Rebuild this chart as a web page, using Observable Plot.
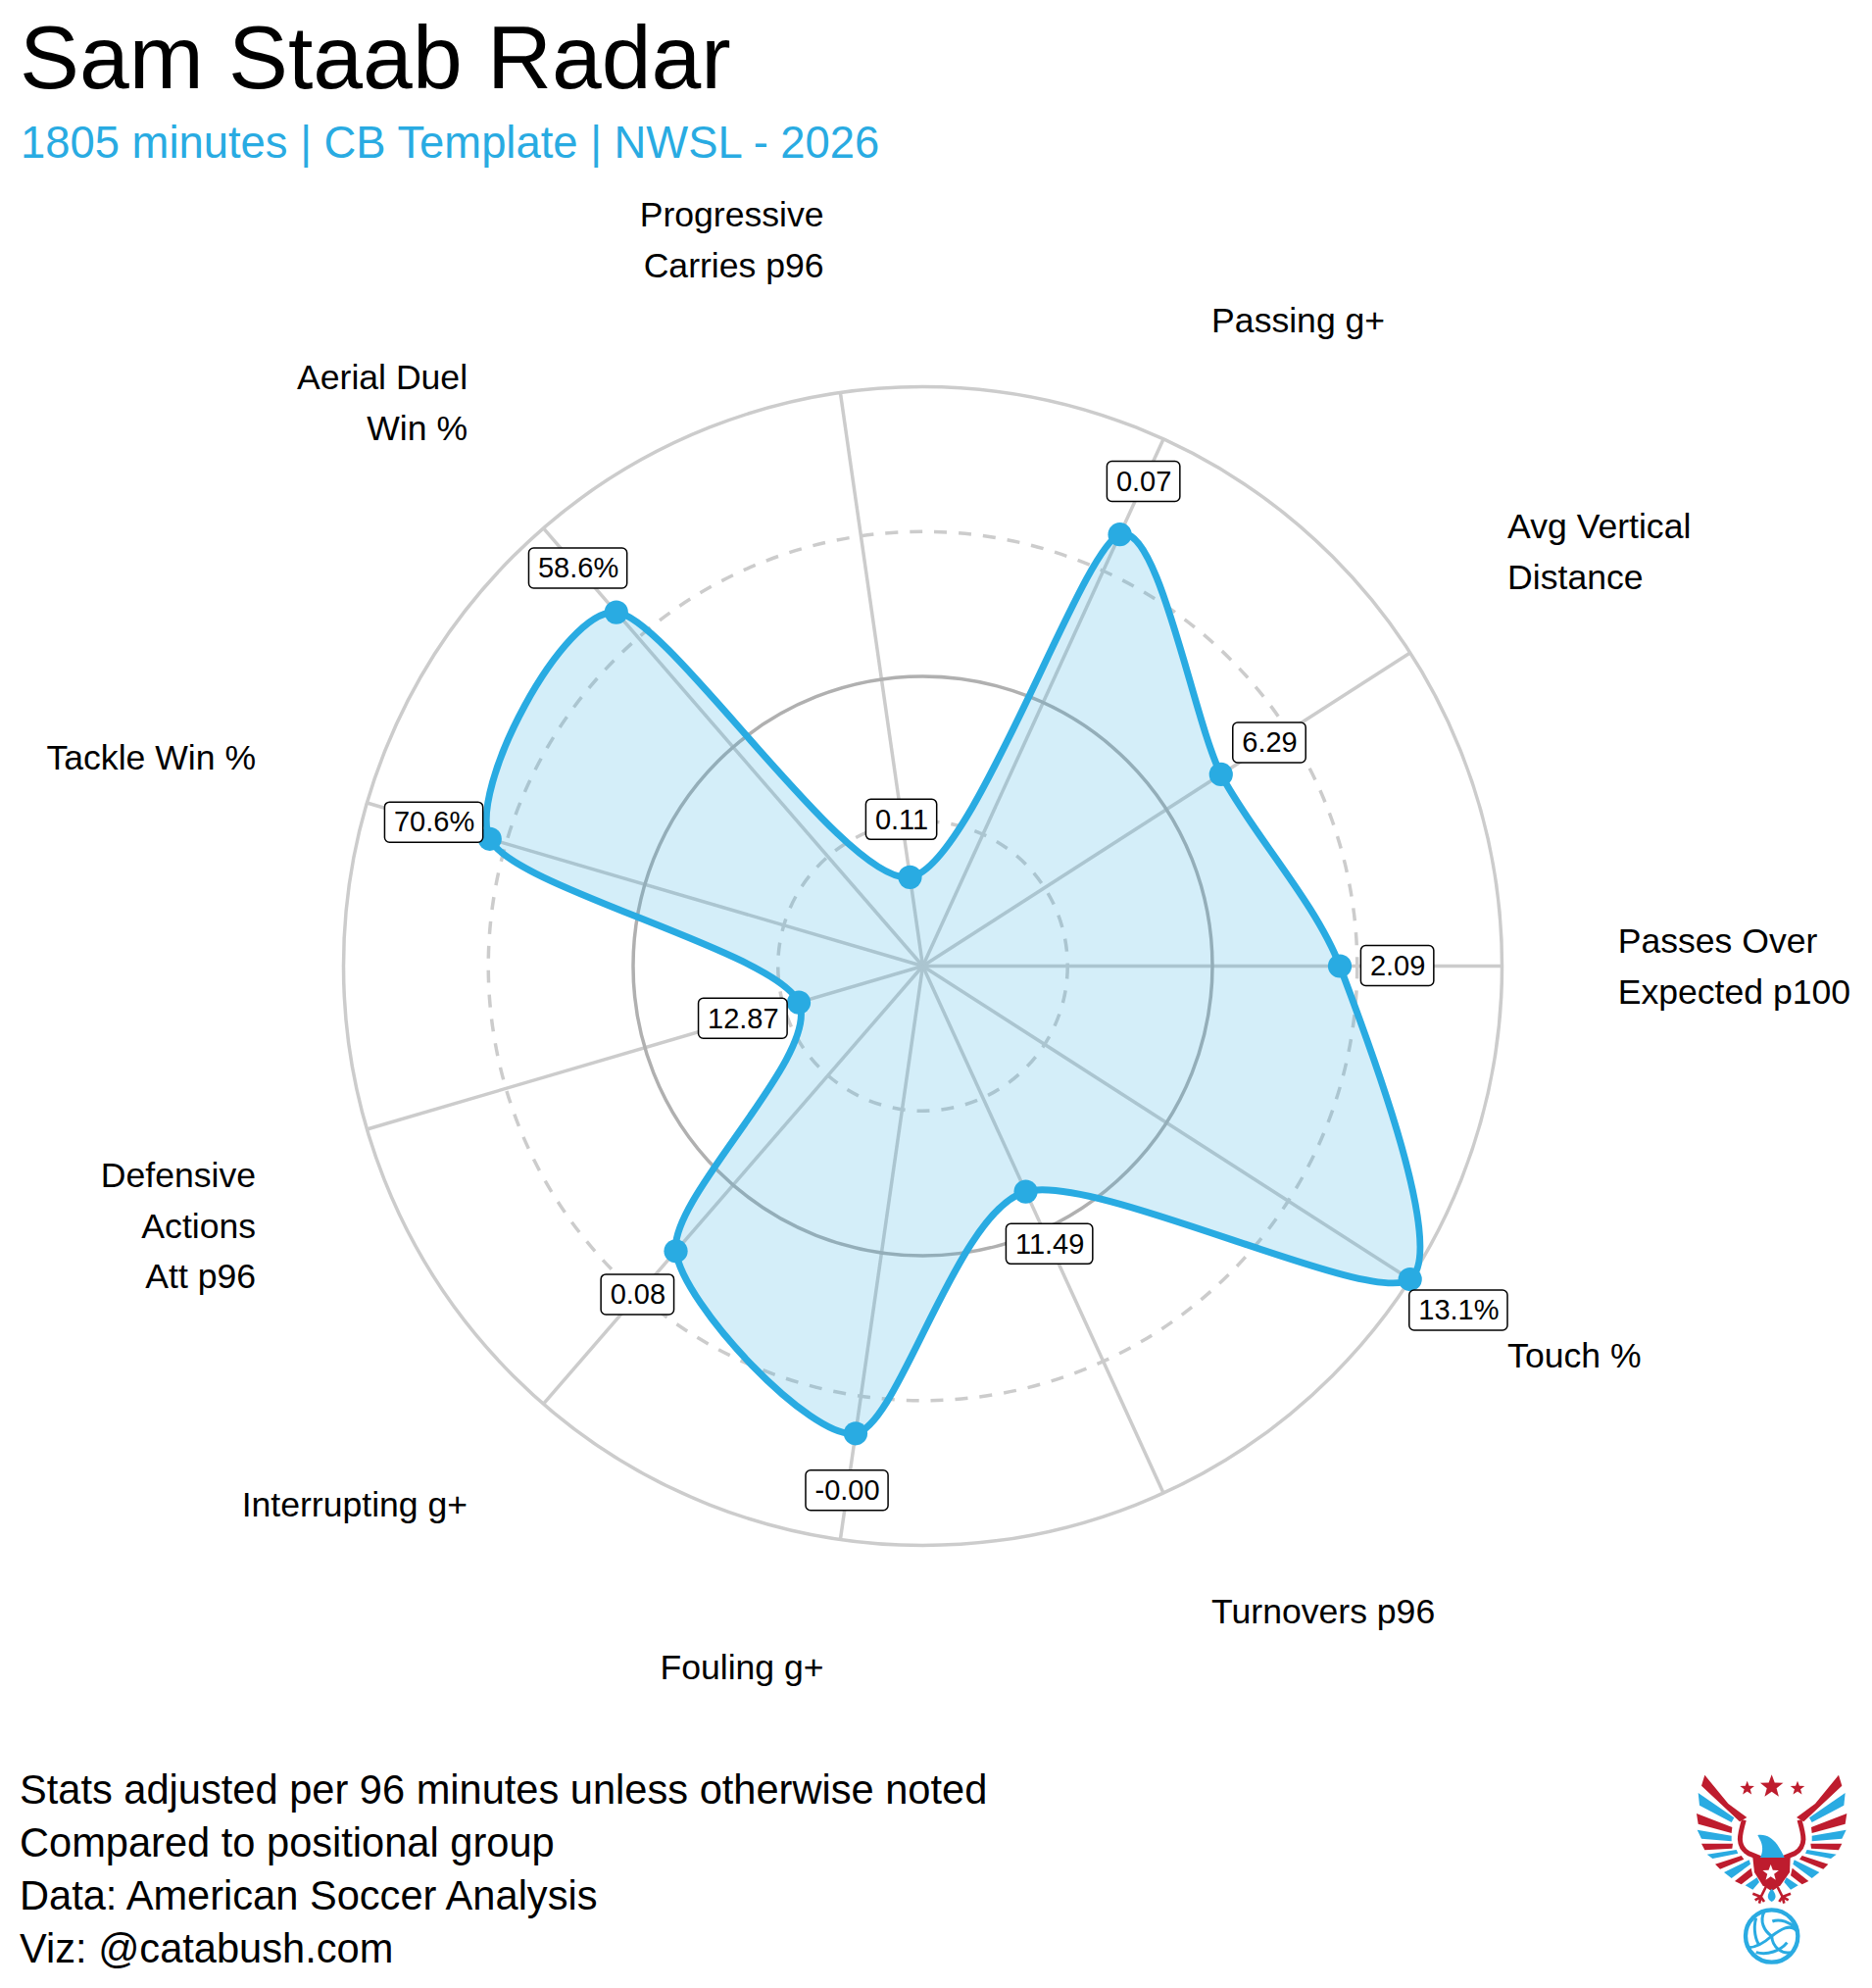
<!DOCTYPE html>
<html>
<head>
<meta charset="utf-8">
<script src="https://cdn.jsdelivr.net/npm/d3@7"></script>
<script src="https://cdn.jsdelivr.net/npm/@observablehq/plot@0.6"></script>
<style>
html,body{margin:0;padding:0;background:#fff;font-family:"Liberation Sans",Arial,sans-serif;}
#page{position:relative;width:1910px;height:2028px;overflow:hidden;}
#title{position:absolute;left:20px;top:6px;font-size:91.3px;line-height:104px;color:#000;white-space:nowrap;}
#subtitle{position:absolute;left:21px;top:119px;font-size:45.4px;line-height:54px;color:#29abe2;white-space:nowrap;}
#chart{position:absolute;left:0;top:180px;}
#caption{position:absolute;left:20px;top:1799px;font-size:41.6px;line-height:54px;color:#000;white-space:nowrap;}
#logo{position:absolute;left:1660px;top:1760px;}
</style>
</head>
<body>
<div id="page">
<div id="title">Sam Staab Radar</div>
<div id="subtitle">1805 minutes | CB Template | NWSL - 2026</div>
<div id="chart"></div>
<div id="caption">Stats adjusted per 96 minutes unless otherwise noted<br>Compared to positional group<br>Data: American Soccer Analysis<br>Viz: @catabush.com</div>
<div id="logo"></div>
</div>
<script>
const categories = ["Passes Over\nExpected p100","Avg Vertical\nDistance","Passing g+","Progressive\nCarries p96","Aerial Duel\nWin %","Tackle Win %","Defensive\nActions\nAtt p96","Interrupting g+","Fouling g+","Turnovers p96","Touch %"];
const percentiles = [0.72,0.612,0.819,0.155,0.808,0.779,0.223,0.651,0.815,0.428,1.0];
const valueLabels = ["2.09","6.29","0.07","0.11","58.6%","70.6%","12.87","0.08","-0.00","11.49","13.1%"];
const dashedRings = [0.25,0.75];
const solidInner = [0.5];
const outerRing = [1];

const blue = "#29abe2";
const W = 1910, H = 1590, R = 591, cx = 941, cy = 805;
const n = categories.length;
const angle = i => i * 2 * Math.PI / n;
const rows = categories.map((c,i) => ({
  label:c, v:percentiles[i], text:valueLabels[i],
  cos:Math.cos(angle(i)), sin:Math.sin(angle(i)),
  lines:c.split("\n").length
}));
rows.forEach(d => {
  d.px = d.v*d.cos; d.py = d.v*d.sin;
  d.lx = (d.v+0.1)*d.cos; d.ly = (d.v+0.1)*d.sin;
  d.tx = 1.2*d.cos; d.ty = 1.2*d.sin;
});
const ctx = document.createElement("canvas").getContext("2d");
ctx.font = '29px "Liberation Sans"';
rows.forEach(d => { d.bw = (ctx.measureText(d.text).width + 18)/R; d.bh = 41/R; });

const common = {fontFamily:'"Liberation Sans",Arial,sans-serif'};
const labelMark = (filter, textAnchor, lineAnchor, dy) => Plot.text(rows.filter(filter), {
  x:"tx", y:"ty", text:"label", textAnchor, lineAnchor, dy, lineHeight:1.45,
  fontSize:35.6, fill:"#000", ...common
});
const curveOpts = {curve:"cardinal-closed", tension:0.25};

const chart = Plot.plot({
  width:W, height:H, margin:0,
  x:{domain:[-cx/R,(W-cx)/R], range:[0,W], axis:null},
  y:{domain:[-(H-cy)/R,cy/R], range:[H,0], axis:null},
  r:{type:"linear", domain:[0,1], range:[0,R]},
  style:{background:"transparent"},
  marks:[
    Plot.dot(outerRing,{x:()=>0,y:()=>0,r:d=>d,stroke:"#cccccc",strokeWidth:3.5,fill:"none"}),
    Plot.dot(dashedRings,{x:()=>0,y:()=>0,r:d=>d,stroke:"#cccccc",strokeWidth:3.5,fill:"none",strokeDasharray:"13,12"}),
    Plot.link(rows,{x1:()=>0,y1:()=>0,x2:"cos",y2:"sin",stroke:"#cccccc",strokeWidth:3.5}),
    Plot.dot(solidInner,{x:()=>0,y:()=>0,r:d=>d,stroke:"#b0b0b0",strokeWidth:3.5,fill:"none"}),
    Plot.line(rows,{x:"px",y:"py",...curveOpts,fill:blue,fillOpacity:0.2,stroke:"none"}),
    Plot.line(rows,{x:"px",y:"py",...curveOpts,stroke:blue,strokeWidth:7,fill:"none"}),
    Plot.dot(rows,{x:"px",y:"py",r:()=>0.0205,fill:blue,stroke:"none"}),
    Plot.rect(rows,{x1:d=>d.lx-d.bw/2,x2:d=>d.lx+d.bw/2,y1:d=>d.ly-d.bh/2,y2:d=>d.ly+d.bh/2,fill:"#fff",stroke:"#000",strokeWidth:1.5,rx:5}),
    Plot.text(rows,{x:"lx",y:"ly",text:"text",fontSize:29,fill:"#000",...common}),
    labelMark(d=>Math.abs(d.sin)<0.01,"start","middle",-4),
    labelMark(d=>d.sin>0.01&&d.cos>0,"start","bottom",-1),
    labelMark(d=>d.sin>0.01&&d.cos<0,"end","bottom",-1),
    labelMark(d=>d.sin<-0.01&&d.cos>0,"start","top",-11),
    labelMark(d=>d.sin<-0.01&&d.cos<0,"end","top",-11)
  ]
});
document.getElementById("chart").appendChild(chart);

// Logo emblem (decoration)
const star = (x,y,r,fill) => {
  const p = d3.range(10).map(k => {
    const rr = k%2 ? r*0.42 : r, a = -Math.PI/2 + k*Math.PI/5;
    return `${x+rr*Math.cos(a)},${y+rr*Math.sin(a)}`;
  }).join(" ");
  return `<polygon points="${p}" fill="${fill}"/>`;
};
const red = "#be1e2d";
const feathers = [
  [red,"238,152 228,185 345,295 367,282 310,240"],
  [blue,"218,207 222,245 320,297 328,283"],
  [red,"213,270 218,302 320,330 322,312"],
  [blue,"215,320 228,347 320,355 320,338"],
  [red,"228,362 238,382 322,377 324,362"],
  [blue,"245,395 262,408 340,392 335,381"],
  [red,"270,425 285,440 358,410 350,399"],
  [blue,"297,450 320,468 378,425 374,412"],
  [red,"330,477 350,487 385,460 380,437"],
  [blue,"362,490 385,503 405,480 398,466"]
];
const side = feathers.map(([c,p]) => `<polygon points="${p}" fill="${c}"/>`).join("")
  + `<path d="M358,290 C345,335 335,370 372,392 L412,408" fill="none" stroke="${red}" stroke-width="15"/>`
  + `<path d="M425,495 L410,525 M410,525 L385,515 M410,525 L392,535 M410,525 L405,545 M410,525 L420,540" stroke="${red}" stroke-width="8" fill="none"/>`;
document.getElementById("logo").innerHTML = `
<svg width="250" height="268" viewBox="0 0 750 804" xmlns="http://www.w3.org/2000/svg">
  <defs><filter id="soft"><feGaussianBlur stdDeviation="1.6"/></filter></defs>
  <g filter="url(#soft)">
    ${star(368,193,23,red)}${star(443,188,37,red)}${star(522,193,23,red)}
    <g>${side}</g>
    <g transform="translate(886,0) scale(-1,1)">${side}</g>
    <path d="M400,336 C425,332 445,345 460,365 C470,380 478,395 482,405 L408,405 C418,385 415,365 408,352 Z" fill="${blue}"/>
    <polygon points="385,405 500,405 498,450 470,490 443,508 415,490 390,450" fill="${red}"/>
    ${star(440,452,26,"#fff")}
    <path d="M443,500 C430,515 425,530 443,540 C461,530 456,515 443,500 Z" fill="${blue}"/>
    <circle cx="443" cy="645" r="80" fill="#fff" stroke="${blue}" stroke-width="13"/>
    <g fill="none" stroke="${blue}" stroke-width="9">
      <path d="M443,645 C420,630 405,600 420,570"/>
      <path d="M443,645 C470,625 500,605 520,630"/>
      <path d="M443,645 C445,680 475,700 500,695"/>
      <path d="M443,645 C415,670 390,680 372,680"/>
      <path d="M395,590 C385,625 395,660 405,672"/>
      <path d="M445,600 C470,590 500,605 515,620"/>
      <path d="M395,695 C430,705 470,690 490,665"/>
    </g>
  </g>
</svg>`;
</script>
</body>
</html>
